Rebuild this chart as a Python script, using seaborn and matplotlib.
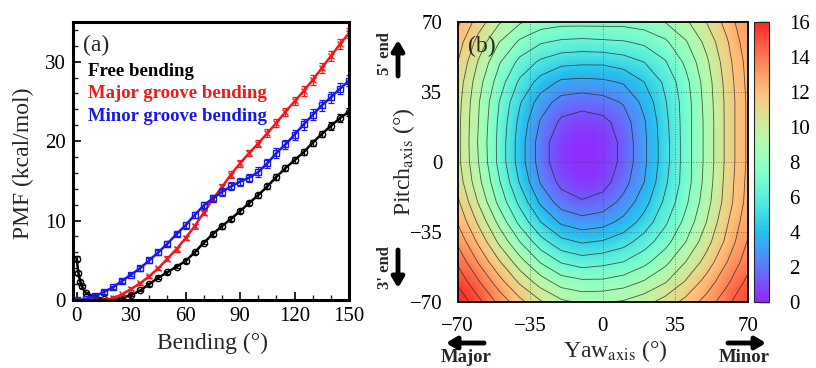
import numpy as np
import pandas as pd
import matplotlib
matplotlib.use("Agg")
import matplotlib.pyplot as plt
from matplotlib.colors import ListedColormap
from matplotlib.patches import FancyArrowPatch
from matplotlib.ticker import MultipleLocator
import seaborn as sns

# ---------------- data: panel (a) ----------------
free_x = [0, 1, 2, 3, 5, 10, 15, 20, 25, 30, 35, 40, 45, 50, 55, 60, 65, 70, 75, 80,
          85, 90, 95, 100, 105, 110, 115, 120, 125, 130, 135, 140, 145, 150]
free_pmf = [5.2, 3.4, 2.3, 1.7, 0.9, 0.4, 0.1, 0.0, 0.3, 0.6, 1.2, 2.0, 2.8, 3.5, 4.2, 4.9,
            6.0, 7.2, 8.3, 9.3, 10.2, 11.2, 12.2, 13.2, 14.3, 15.5, 16.6, 17.6, 18.6,
            19.8, 20.9, 21.9, 22.9, 23.7]
free_err = [0.3, 0.2, 0.2, 0.2, 0.1, 0.1, 0.1, 0.1, 0.1, 0.1, 0.1, 0.2, 0.2, 0.2, 0.2, 0.2,
            0.2, 0.2, 0.3, 0.3, 0.3, 0.3, 0.3, 0.3, 0.3, 0.4, 0.4, 0.4, 0.4, 0.4, 0.4,
            0.5, 0.5, 0.5]

groove_x = [0, 5, 10, 15, 20, 25, 30, 35, 40, 45, 50, 55, 60, 65, 70, 75, 80, 85, 90,
            95, 100, 105, 110, 115, 120, 125, 130, 135, 140, 145, 150]
major_pmf = [0.0, 0.0, 0.0, 0.0, 0.2, 0.7, 1.4, 2.1, 3.0, 4.0, 5.2, 6.4, 7.8, 9.3, 11.0,
             12.7, 14.2, 15.8, 17.2, 18.5, 19.7, 21.0, 22.3, 23.7, 25.0, 26.3, 27.7,
             29.2, 30.7, 32.2, 33.6]
major_err = [0.1, 0.1, 0.1, 0.1, 0.1, 0.1, 0.2, 0.2, 0.2, 0.2, 0.3, 0.3, 0.3, 0.3, 0.3,
             0.4, 0.4, 0.4, 0.4, 0.4, 0.5, 0.5, 0.5, 0.5, 0.5, 0.6, 0.6, 0.6, 0.6, 0.6, 0.6]
minor_pmf = [0.0, 0.1, 0.5, 1.0, 1.6, 2.4, 3.2, 4.0, 5.0, 6.0, 7.1, 8.3, 9.4, 10.7, 11.9,
             12.8, 13.6, 14.3, 14.9, 15.4, 16.1, 17.2, 18.5, 19.6, 20.8, 22.1, 23.3,
             24.5, 25.5, 26.6, 27.6]
minor_err = [0.1, 0.1, 0.1, 0.2, 0.2, 0.2, 0.2, 0.3, 0.3, 0.3, 0.3, 0.3, 0.4, 0.4, 0.4,
             0.4, 0.5, 0.5, 0.5, 0.5, 0.6, 0.6, 0.6, 0.6, 0.6, 0.7, 0.7, 0.7, 0.7, 0.7, 0.7]

series_names = ["Free bending", "Major groove bending", "Minor groove bending"]
series_colors = ["#000000", "#f01818", "#1818ee"]
bend_ticks = [0, 30, 60, 90, 120, 150]
pmf_ticks = [0, 10, 20, 30]

# ---------------- data: panel (b) ----------------
yaw_vals = [-70, -60, -50, -40, -30, -20, -10, 0, 10, 20, 30, 40, 50, 60, 70]
pitch_vals = [70, 60, 50, 40, 30, 20, 10, 0, -10, -20, -30, -40, -50, -60, -70]
pmf_grid = [
    [12.2, 10.5, 9.1, 8.1, 7.5, 7.3, 7.3, 7.3, 7.3, 7.5, 8.0, 8.8, 10.0, 11.4, 13.0],
    [11.5, 9.6, 8.0, 6.8, 6.1, 5.8, 5.7, 5.8, 5.9, 6.2, 6.8, 7.9, 9.3, 10.9, 12.7],
    [11.0, 8.9, 7.1, 5.7, 4.8, 4.3, 4.2, 4.2, 4.5, 5.0, 5.9, 7.2, 8.8, 10.6, 12.4],
    [10.6, 8.4, 6.5, 4.8, 3.6, 2.8, 2.7, 2.8, 3.1, 4.0, 5.2, 6.7, 8.5, 10.4, 12.3],
    [10.4, 8.1, 6.0, 4.1, 2.5, 1.6, 1.4, 1.6, 2.1, 3.3, 4.9, 6.5, 8.4, 10.3, 12.2],
    [10.3, 8.0, 5.8, 3.7, 1.9, 0.8, 0.5, 0.7, 1.5, 2.9, 4.7, 6.5, 8.3, 10.3, 12.2],
    [10.3, 7.9, 5.7, 3.5, 1.5, 0.3, 0.1, 0.3, 1.3, 2.8, 4.6, 6.5, 8.3, 10.3, 12.2],
    [10.3, 8.0, 5.7, 3.5, 1.5, 0.3, 0.1, 0.3, 1.3, 2.8, 4.6, 6.5, 8.3, 10.3, 12.2],
    [10.6, 8.3, 6.1, 3.9, 1.9, 0.7, 0.3, 0.6, 1.6, 3.0, 4.8, 6.5, 8.4, 10.4, 12.3],
    [11.2, 8.9, 6.7, 4.7, 2.8, 1.5, 1.1, 1.4, 2.3, 3.6, 5.2, 6.8, 8.6, 10.5, 12.4],
    [11.9, 9.8, 7.7, 5.7, 4.0, 2.8, 2.4, 2.6, 3.3, 4.4, 5.8, 7.3, 9.0, 10.9, 12.7],
    [12.8, 10.8, 8.8, 7.0, 5.4, 4.3, 3.9, 4.1, 4.6, 5.5, 6.6, 8.0, 9.6, 11.3, 13.1],
    [13.8, 11.9, 10.1, 8.4, 6.9, 5.9, 5.5, 5.7, 6.0, 6.7, 7.7, 9.0, 10.4, 12.0, 13.6],
    [14.8, 13.1, 11.4, 9.8, 8.5, 7.5, 7.2, 7.2, 7.5, 8.1, 8.9, 10.1, 11.4, 12.8, 14.3],
    [15.8, 14.3, 12.7, 11.3, 10.1, 9.2, 8.8, 8.9, 9.1, 9.6, 10.4, 11.3, 12.4, 13.7, 15.1],
]
yaw_ticks = [-70, -35, 0, 35, 70]
pitch_ticks = [-70, -35, 0, 35, 70]
cbar_ticks = [0, 2, 4, 6, 8, 10, 12, 14, 16]
contour_levels = [1, 2, 3, 4, 5, 6, 7, 8, 9, 10, 11, 12, 13, 14, 15]

# ---------------- style ----------------
sns.set_theme(style="ticks")
plt.rcParams["font.family"] = ["Liberation Serif", "DejaVu Serif"]
plt.rcParams["mathtext.fontset"] = "stix"
plt.rcParams["axes.unicode_minus"] = True

W, H = 816, 368
fig = plt.figure(figsize=(W / 100, H / 100), dpi=100)


def fx(px):
    return px / W


def fy(py):
    return 1 - py / H


# ---------------- panel (a) ----------------
ax1 = fig.add_axes([fx(73), fy(300), 276 / W, 278 / H])
frames = [
    (pd.DataFrame({"x": free_x, "y": free_pmf}), free_err, "o", 4.5),
    (pd.DataFrame({"x": groove_x, "y": major_pmf}), major_err, "x", 5.0),
    (pd.DataFrame({"x": groove_x, "y": minor_pmf}), minor_err, "s", 4.5),
]
for (d, err, mk, ms), col in zip(frames, series_colors):
    sns.lineplot(data=d, x="x", y="y", ax=ax1, color=col, lw=1.8, marker=mk,
                 markersize=ms, markerfacecolor="none", markeredgecolor=col,
                 markeredgewidth=1.0)
    ax1.errorbar(d["x"], d["y"], yerr=err, fmt="none", ecolor=col, elinewidth=0.9,
                 capsize=2, capthick=0.9)

ax1.set_xlim(-2, 150)
ax1.set_ylim(0, 35)
ax1.set_xticks(bend_ticks)
ax1.set_yticks(pmf_ticks)
ax1.xaxis.set_minor_locator(MultipleLocator(10))
ax1.yaxis.set_minor_locator(MultipleLocator(2))
ax1.tick_params(which="major", direction="in", length=6, width=1.2, labelsize=15,
                pad=5, colors="black")
ax1.tick_params(which="minor", direction="in", length=3.5, width=1.0)
for sp in ax1.spines.values():
    sp.set_linewidth(2.2)
    sp.set_color("black")
    sp.set_visible(True)
ax1.set_xlabel("")
ax1.set_ylabel("")
fig.text(fx(212), fy(343), "Bending (°)", ha="center", va="center", fontsize=17)
fig.text(fx(23), fy(163), "PMF (kcal/mol)", ha="center", va="center", fontsize=17,
         rotation=90)
ax1.text(0.035, 0.915, "(a)", transform=ax1.transAxes, fontsize=17, ha="left",
         va="center")
for name, col, ypx in zip(series_names, series_colors, [72, 94, 116]):
    fig.text(fx(88), fy(ypx), name, color=col, fontsize=13.5, fontweight="bold",
             ha="left", va="center")

# ---------------- panel (b) ----------------
grid = np.array(pmf_grid)
base = plt.get_cmap("rainbow")(np.linspace(0, 1, 256))
light = base.copy()
light[:, :3] = 0.15 + 0.85 * base[:, :3]
cmap = ListedColormap(light)

ax2 = fig.add_axes([fx(457.7), fy(301.7), 290.3 / W, 279.4 / H])
im = ax2.imshow(grid, extent=(-70, 70, -70, 70), origin="upper", cmap=cmap,
                vmin=0, vmax=16, interpolation="bicubic", aspect="auto")
ax2.contour(np.array(yaw_vals), np.array(pitch_vals)[::-1], grid[::-1],
            levels=contour_levels, colors="#222222", linewidths=0.6, alpha=0.75)
for v in [-35, 0, 35]:
    ax2.axvline(v, color="#444444", lw=0.6, ls=(0, (1, 2)), alpha=0.8)
    ax2.axhline(v, color="#444444", lw=0.6, ls=(0, (1, 2)), alpha=0.8)
ax2.set_xlim(-70, 70)
ax2.set_ylim(-70, 70)
ax2.set_xticks(yaw_ticks)
ax2.set_yticks(pitch_ticks)
ax2.tick_params(length=0, labelsize=15, pad=11, colors="black")
for sp in ax2.spines.values():
    sp.set_linewidth(1.3)
    sp.set_color("black")
ax2.text(0.035, 0.915, "(b)", transform=ax2.transAxes, fontsize=17, ha="left",
         va="center")

cax = fig.add_axes([fx(754), fy(301.7), 14.5 / W, 279.4 / H])
cb = fig.colorbar(im, cax=cax, ticks=cbar_ticks)
cb.outline.set_linewidth(0.8)
cax.tick_params(direction="in", length=7, width=1.0, labelsize=15, pad=15,
                colors="black")

fig.text(fx(615), fy(351), r"Yaw$_{\mathrm{axis}}$ (°)", ha="center", va="center",
         fontsize=17)
fig.text(fx(404), fy(162), r"Pitch$_{\mathrm{axis}}$ (°)", ha="center", va="center",
         fontsize=17, rotation=90)

# direction annotations
fig.text(fx(466), fy(358), "Major", ha="center", va="center", fontsize=13.5,
         fontweight="bold")
fig.text(fx(744), fy(358), "Minor", ha="center", va="center", fontsize=13.5,
         fontweight="bold")
arrow_kw = dict(arrowstyle="-|>,head_length=0.5,head_width=0.3", lw=3.5,
                color="black", shrinkA=0, shrinkB=0, mutation_scale=12,
                transform=fig.transFigure)
for (x0, y0), (x1, y1) in [((484, 343), (446, 343)), ((728, 343), (766, 343)),
                           ((398, 76), (398, 40)), ((398, 250), (398, 288))]:
    fig.add_artist(FancyArrowPatch((fx(x0), fy(y0)), (fx(x1), fy(y1)), **arrow_kw))
fig.text(fx(385), fy(54), "5' end", ha="center", va="center", fontsize=12,
         fontweight="bold", rotation=90)
fig.text(fx(385), fy(268), "3' end", ha="center", va="center", fontsize=12,
         fontweight="bold", rotation=90)

fig.savefig("out.png", dpi=100)
